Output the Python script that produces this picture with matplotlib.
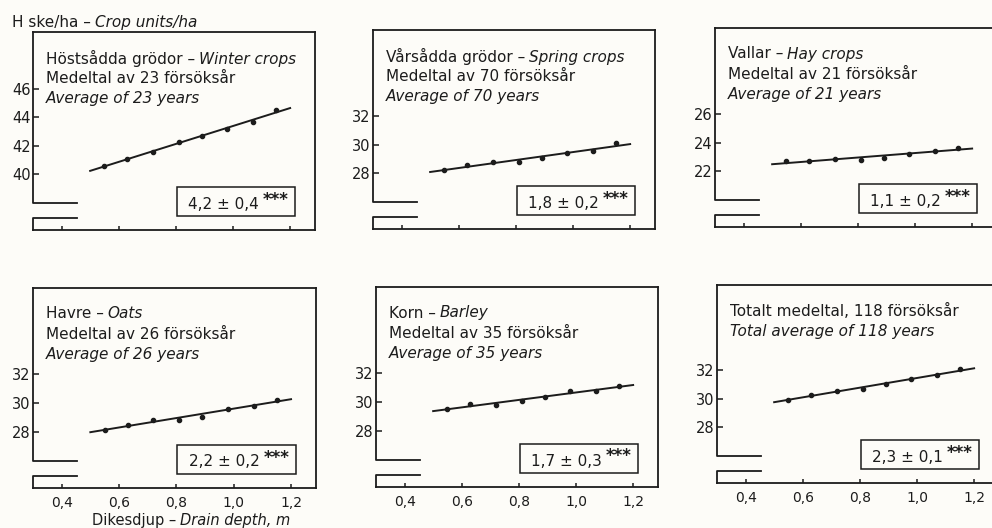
import numpy as np
import matplotlib.pyplot as plt
from matplotlib.patches import Rectangle
from matplotlib.transforms import blended_transform_factory

plt.rcParams['font.family'] = ['DejaVu Sans']
plt.rcParams['font.size'] = 11

# Dikesdjup, m (åtta led)
depth = [0.55, 0.63, 0.72, 0.81, 0.89, 0.98, 1.07, 1.15]

# Skörd, H ske/ha
winter = [40.6, 41.05, 41.6, 42.3, 42.7, 43.2, 43.7, 44.5]
spring = [28.2, 28.6, 28.75, 28.8, 29.05, 29.4, 29.55, 30.1]
hay = [22.7, 22.7, 22.85, 22.8, 22.95, 23.2, 23.4, 23.65]
oats = [28.15, 28.5, 28.8, 28.85, 29.05, 29.6, 29.8, 30.25]
barley = [29.55, 29.85, 29.8, 30.05, 30.35, 30.75, 30.75, 31.15]
total = [29.95, 30.3, 30.55, 30.7, 31.05, 31.4, 31.65, 32.1]

series = [winter, spring, hay, oats, barley, total]
yticks_list = [[40, 42, 44, 46], [28, 30, 32], [22, 24, 26],
               [28, 30, 32], [28, 30, 32], [28, 30, 32]]
xticks = [0.4, 0.6, 0.8, 1.0, 1.2]
xtick_labels = ["0,4", "0,6", "0,8", "1,0", "1,2"]

heads = [
    [[("Höstsådda grödor –", "normal"), ("Winter crops", "italic")],
     [("Medeltal av 23 försöksår", "normal")],
     [("Average of 23 years", "italic")]],
    [[("Vårsådda grödor –", "normal"), ("Spring crops", "italic")],
     [("Medeltal av 70 försöksår", "normal")],
     [("Average of 70 years", "italic")]],
    [[("Vallar –", "normal"), ("Hay crops", "italic")],
     [("Medeltal av 21 försöksår", "normal")],
     [("Average of 21 years", "italic")]],
    [[("Havre –", "normal"), ("Oats", "italic")],
     [("Medeltal av 26 försöksår", "normal")],
     [("Average of 26 years", "italic")]],
    [[("Korn –", "normal"), ("Barley", "italic")],
     [("Medeltal av 35 försöksår", "normal")],
     [("Average of 35 years", "italic")]],
    [[("Totalt medeltal, 118 försöksår", "normal")],
     [("Total average of 118 years", "italic")]],
]
coef = ["4,2 ± 0,4", "1,8 ± 0,2", "1,1 ± 0,2", "2,2 ± 0,2", "1,7 ± 0,3", "2,3 ± 0,1"]

W, H = 992, 528
bg = '#fdfcf8'
ink = '#1c1c1c'
fig = plt.figure(figsize=(W / 100, H / 100), dpi=100)
fig.patch.set_facecolor(bg)

# placering i pixlar: vänster, topp, bredd, höjd
frames = [(33, 32, 282, 198), (373, 30, 282, 199), (715, 28, 282, 199),
          (33, 288, 283, 200), (376, 287, 282, 200), (717, 285, 282, 198)]

for i, (l, t, w, h) in enumerate(frames):
    ax = fig.add_axes([l / W, 1 - (t + h) / H, w / W, h / H])
    ax.set_facecolor('none')
    y = series[i]
    y0 = yticks_list[i][0]
    ax.set_xlim(0.3, 1.287)
    ax.set_ylim(y0 - 3.9, y0 + 10)

    ax.plot(depth, y, 'o', ms=3, color=ink)
    k, m = np.polyfit(depth, y, 1)
    xl = np.array([0.5, 1.2])
    ax.plot(xl, k * xl + m, color=ink, lw=1.4)

    ax.set_yticks(yticks_list[i])
    ax.set_xticks(xticks)
    ax.set_xticklabels(xtick_labels if i >= 3 else [])
    ax.tick_params(axis='both', direction='in', colors=ink, width=1.1)
    ax.tick_params(axis='x', length=3, pad=6, labelsize=10)
    ax.tick_params(axis='y', length=4, pad=1.5, labelsize=10.5)
    ax.spines['left'].set_visible(False)
    for s in ['top', 'right', 'bottom']:
        ax.spines[s].set_linewidth(1.3)
        ax.spines[s].set_color(ink)

    # avbruten y-axel
    tr = blended_transform_factory(ax.transData, ax.transAxes)
    ax.plot([0.3, 0.3, 0.455], [1, 0.135, 0.135], transform=tr, color=ink,
            lw=1.3, clip_on=False)
    ax.plot([0.455, 0.3, 0.3], [0.06, 0.06, 0], transform=tr, color=ink,
            lw=1.3, clip_on=False)

    # rubriker
    for j, parts in enumerate(heads[i]):
        yy = 1 - (26 + 20.3 * j) / h
        txt = ax.text(0.045, yy, parts[0][0], style=parts[0][1], transform=ax.transAxes,
                      va='center', ha='left', color=ink)
        for s, st in parts[1:]:
            txt = ax.annotate(s, xy=(1, 0), xycoords=txt, xytext=(3, 0),
                              textcoords='offset points', va='bottom', ha='left',
                              style=st, color=ink)

    # regressionskoefficient
    ax.add_patch(Rectangle((0.51, 0.07), 0.42, 0.145, transform=ax.transAxes,
                           fill=False, lw=1.1, ec=ink))
    tm = ax.text(0.55, 0.13, coef[i], transform=ax.transAxes, va='center',
                 ha='left', color=ink)
    ax.annotate('***', xy=(1, 0.8), xycoords=tm, xytext=(3, 0),
                textcoords='offset points', va='center', ha='left',
                fontsize=12, fontweight='bold', color=ink)

# axeltexter
t1 = fig.text(12 / W, 1 - 23 / H, "H ske/ha –", va='center', ha='left', color=ink)
plt.annotate("Crop units/ha", xy=(1, 0), xycoords=t1, xytext=(3, 0),
             textcoords='offset points', va='bottom', ha='left',
             style='italic', color=ink, annotation_clip=False)
t3 = fig.text(92 / W, 1 - 520 / H, "Dikesdjup –", va='center', ha='left',
              color=ink, fontsize=10.5)
plt.annotate("Drain depth, m", xy=(1, 0), xycoords=t3, xytext=(3, 0),
             textcoords='offset points', va='bottom', ha='left', fontsize=10.5,
             style='italic', color=ink, annotation_clip=False)

fig.savefig('out.png', dpi=100, facecolor=bg)
